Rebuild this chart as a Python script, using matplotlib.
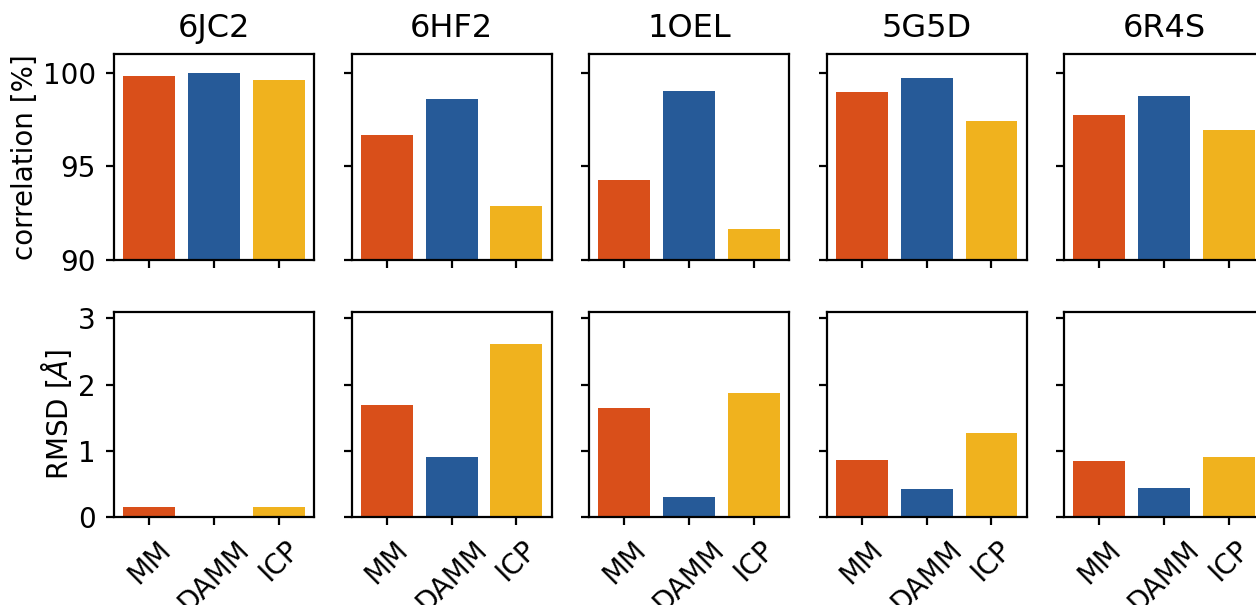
import matplotlib
matplotlib.use("Agg")
import matplotlib.pyplot as plt

# structures and methods
proteins = ["6JC2", "6HF2", "1OEL", "5G5D", "6R4S"]
methods = ["MM", "DAMM", "ICP"]
colors = ["#D94F1A", "#265A98", "#F0B21E"]

# correlation [%] per protein, order MM / DAMM / ICP
corr_mm = [99.84, 96.70, 94.25, 98.96, 97.72]
corr_damm = [99.99, 98.58, 99.03, 99.71, 98.78]
corr_icp = [99.62, 92.89, 91.67, 97.40, 96.96]

# RMSD [Å] per protein
rmsd_mm = [0.15, 1.69, 1.65, 0.86, 0.85]
rmsd_damm = [0.0, 0.90, 0.30, 0.42, 0.44]
rmsd_icp = [0.15, 2.62, 1.87, 1.27, 0.91]

plt.rcParams["font.size"] = 10
plt.rcParams["axes.linewidth"] = 0.8
plt.rcParams["xtick.major.size"] = 3
plt.rcParams["ytick.major.size"] = 3

fig = plt.figure(figsize=(6.28, 3.025), dpi=200)

left0, width, step = 0.0908, 0.1592, 0.1891
x = list(range(len(methods)))

for i, name in enumerate(proteins):
    ax1 = fig.add_axes([left0 + i * step, 0.5702, width, 0.3405])
    ax2 = fig.add_axes([left0 + i * step, 0.1455, width, 0.339])

    ax1.bar(x, [corr_mm[i], corr_damm[i], corr_icp[i]], width=0.8, color=colors)
    ax1.set_ylim(90, 101)
    ax1.set_yticks([90, 95, 100])
    ax1.set_xticks(x)
    ax1.set_xticklabels([])
    ax1.set_title(name, fontsize=11.5)

    ax2.bar(x, [rmsd_mm[i], rmsd_damm[i], rmsd_icp[i]], width=0.8, color=colors)
    ax2.set_ylim(0, 3.1)
    ax2.set_yticks([0, 1, 2, 3])
    ax2.set_xticks(x)
    ax2.set_xticklabels(methods, rotation=45)

    if i == 0:
        ax1.set_ylabel("correlation [%]", labelpad=1.5)
        ax2.set_ylabel(r"RMSD [$\AA$]", labelpad=1.5)
    else:
        ax1.set_yticklabels([])
        ax2.set_yticklabels([])

fig.savefig("out.png", dpi=200)
